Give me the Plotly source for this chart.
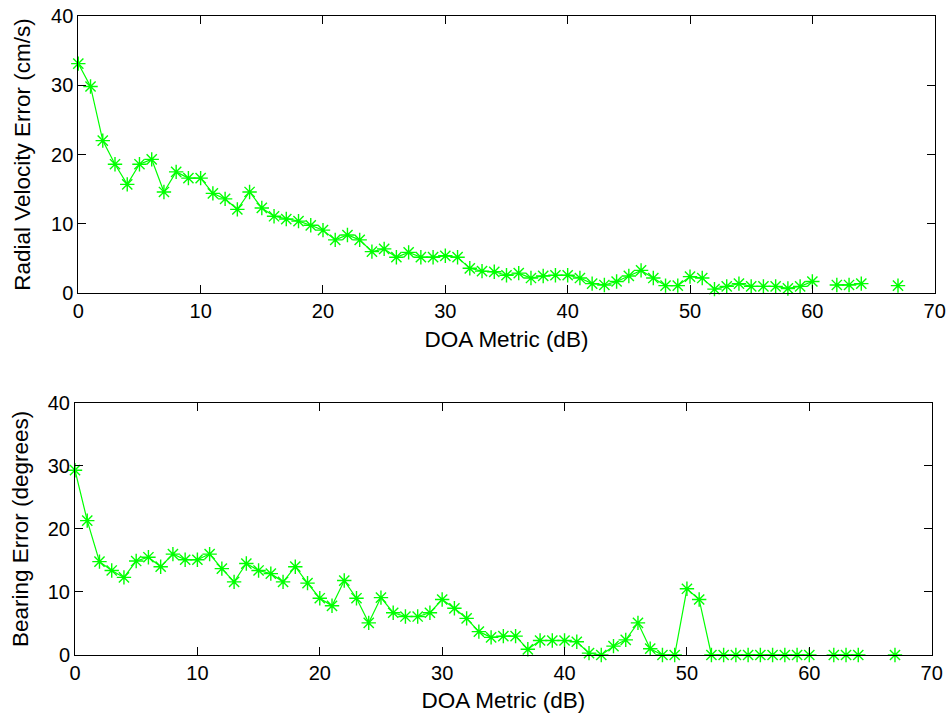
import plotly.graph_objects as go
from plotly.subplots import make_subplots

doa_db = list(range(0, 68))

radial_velocity_err = [
    33.1, 29.8, 22.0, 18.6, 15.7, 18.6, 19.3, 14.6, 17.5, 16.6,
    16.6, 14.4, 13.6, 12.1, 14.6, 12.3, 11.1, 10.7, 10.4, 9.8,
    9.1, 7.7, 8.4, 7.7, 6.0, 6.4, 5.2, 5.9, 5.2, 5.2,
    5.4, 5.2, 3.6, 3.2, 3.1, 2.6, 2.9, 2.2, 2.5, 2.6,
    2.6, 2.2, 1.4, 1.2, 1.7, 2.5, 3.3, 2.2, 1.1, 1.1,
    2.4, 2.2, 0.6, 1.0, 1.4, 1.0, 1.0, 1.0, 0.7, 1.0,
    1.7, None, 1.2, 1.2, 1.4, None, None, 1.1,
]

bearing_err = [
    29.3, 21.3, 14.8, 13.4, 12.3, 14.9, 15.5, 14.0, 16.0, 15.1,
    15.1, 16.0, 13.7, 11.6, 14.5, 13.4, 12.9, 11.6, 14.0, 11.4,
    9.0, 7.8, 11.8, 9.0, 5.1, 9.1, 6.7, 6.1, 6.1, 6.7,
    8.8, 7.4, 5.8, 3.7, 2.8, 3.0, 3.0, 0.9, 2.3, 2.3,
    2.3, 2.1, 0.3, 0.0, 1.4, 2.4, 5.1, 1.0, 0.0, 0.0,
    10.5, 8.8, 0.0, 0.0, 0.0, 0.0, 0.0, 0.0, 0.0, 0.0,
    0.0, None, 0.0, 0.0, 0.0, None, None, 0.0,
]

x_ticks = [0, 10, 20, 30, 40, 50, 60, 70]
y_ticks = [0, 10, 20, 30, 40]

x_title = "DOA Metric (dB)"
y_title_top = "Radial Velocity Error (cm/s)"
y_title_bottom = "Bearing Error (degrees)"

GREEN = "#00FF00"
FONT = "Liberation Sans, Arial, sans-serif"

fig = make_subplots(rows=2, cols=1)

for row, vals in ((1, radial_velocity_err), (2, bearing_err)):
    fig.add_trace(
        go.Scatter(
            x=doa_db, y=vals, mode="lines+markers",
            line=dict(color=GREEN, width=1.2),
            marker=dict(symbol="asterisk-open", size=12,
                        line=dict(color=GREEN, width=1.4), color=GREEN),
            connectgaps=False, showlegend=False, cliponaxis=False,
        ),
        row=row, col=1,
    )

W, H = 947, 717
top_x = [78.3 / W, 934.7 / W]
bot_x = [75.0 / W, 931.7 / W]
top_y = [1 - 293.3 / H, 1 - 15.7 / H]
bot_y = [1 - 655.0 / H, 1 - 402.7 / H]

title_font = dict(family=FONT, size=22.5, color="black")

axis_common = dict(
    showgrid=False, zeroline=False, showline=True, linecolor="black",
    linewidth=1, mirror="ticks", ticks="inside", ticklen=8, tickwidth=1,
    tickcolor="black", tickfont=dict(family=FONT, size=20, color="black"),
    automargin=False,
)

fig.update_xaxes(**axis_common, range=[0, 70], tickvals=x_ticks,
                 title=dict(text=x_title, font=title_font, standoff=9))
fig.update_yaxes(**axis_common, range=[0, 40], tickvals=y_ticks)

fig.update_layout(
    xaxis=dict(domain=top_x),
    xaxis2=dict(domain=bot_x),
    yaxis=dict(domain=top_y, title=dict(text=y_title_top, font=title_font, standoff=14)),
    yaxis2=dict(domain=bot_y, title=dict(text=y_title_bottom, font=title_font, standoff=12)),
    width=W, height=H,
    margin=dict(l=0, r=0, t=0, b=0),
    paper_bgcolor="white", plot_bgcolor="white",
)

fig.write_html("out.html")
